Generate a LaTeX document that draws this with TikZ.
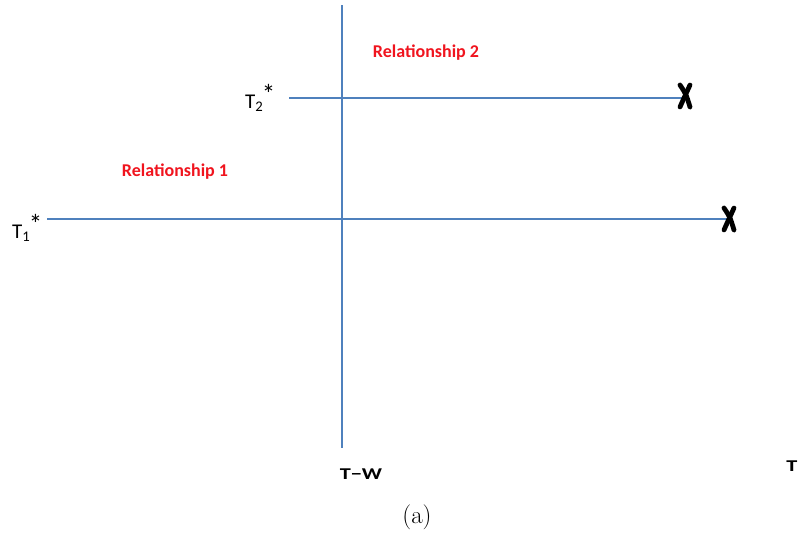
\documentclass[tikz,border=0pt]{standalone}
\usepackage{fontspec}
\setmainfont{Latin Modern Roman}
\newfontfamily\calib{Carlito}
\definecolor{axisblue}{RGB}{79,129,189}
\definecolor{relred}{RGB}{240,20,30}
\begin{document}
\begin{tikzpicture}[x=1pt,y=-1pt,
  axisline/.style={draw=axisblue,line width=2.2pt},
  rellabel/.style={font=\calib\bfseries\fontsize{18}{20}\selectfont,text=relred,inner sep=0pt},
  tlabel/.style={font=\calib\fontsize{21}{24}\selectfont,inner sep=0pt},
  axlabel/.style={font=\calib\bfseries\fontsize{16.5}{18}\selectfont,inner sep=0pt},
  xmark/.style={line width=4.8pt,line cap=round,black}]
\useasboundingbox (0,0) rectangle (804,533);
% axis coordinates
\coordinate (vtop) at (342,5);
\coordinate (vbot) at (342,448);
\coordinate (h2l) at (289,98);
\coordinate (h2r) at (684,98);
\coordinate (h1l) at (47,219);
\coordinate (h1r) at (728,219);
\draw[axisline] (vtop) -- (vbot);
\draw[axisline] (h2l) -- (h2r);
\draw[axisline] (h1l) -- (h1r);
% X marks
\coordinate (x2) at (685,96);
\coordinate (x1) at (729,219);
\foreach \c in {x2,x1}{
  \draw[xmark] ([shift={(-5,-11)}]\c) .. controls ([shift={(1,-2)}]\c) .. ([shift={(5,11)}]\c);
  \draw[xmark] ([shift={(5,-11)}]\c) .. controls ([shift={(-1,2)}]\c) .. ([shift={(-5,11)}]\c);
}
% labels
\node[rellabel] (r2) at (426,53) {Relationship 2};
\node[rellabel] (r1) at (175,172) {Relationship 1};
\node[tlabel,anchor=base west] (t2) at (245,108) {T\textsubscript{2}\kern-1.5pt\raisebox{5pt}{\fontsize{27}{27}\selectfont*}};
\node[tlabel,anchor=base west] (t1) at (12,238) {T\textsubscript{1}\kern-1.5pt\raisebox{5pt}{\fontsize{27}{27}\selectfont*}};
\node[axlabel] (tw) at (361,474) {\scalebox{1.35}[1]{T−W}};
\node[axlabel] (tt) at (792,466) {\scalebox{1.35}[1]{T}};
\node[font=\fontsize{25}{28}\selectfont,inner sep=0pt] (cap) at (417,517) {(a)};
\end{tikzpicture}
\end{document}
